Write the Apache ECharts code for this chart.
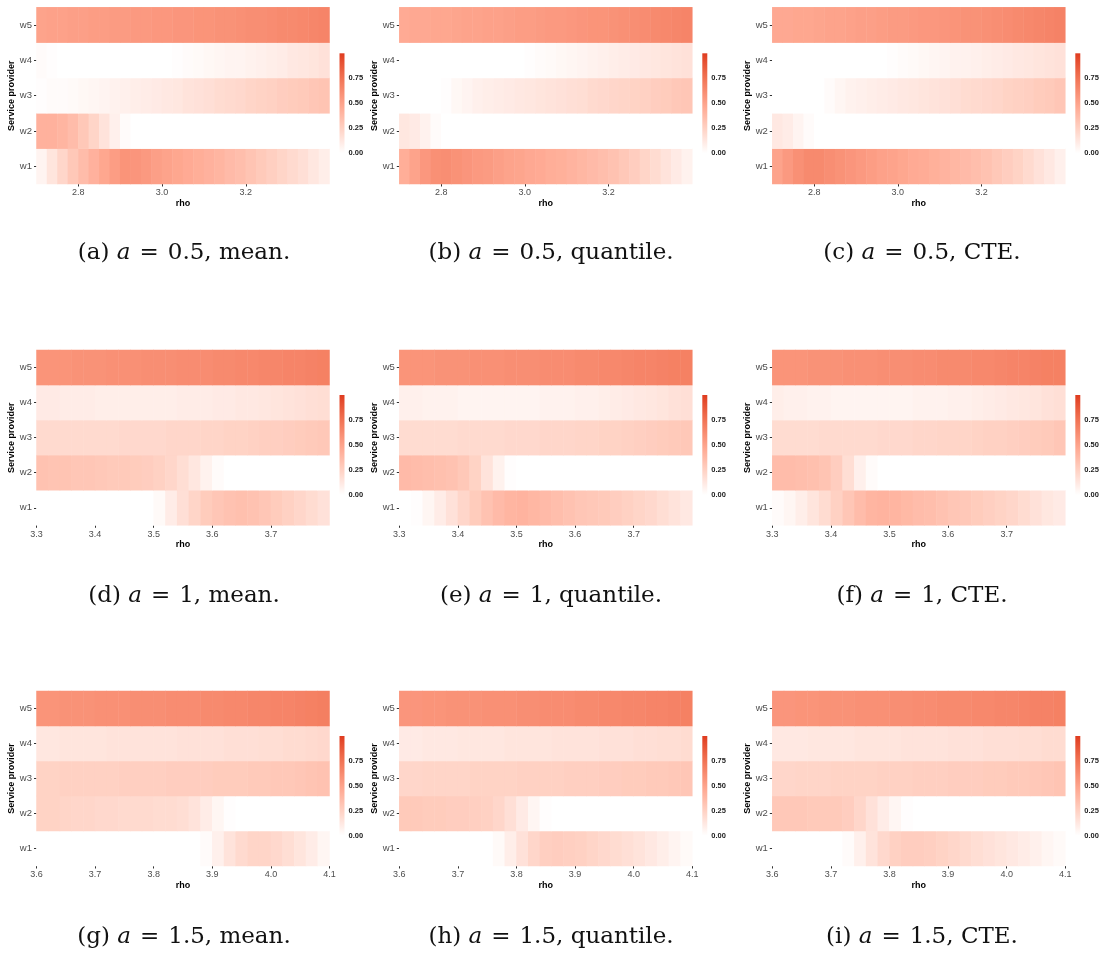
<!DOCTYPE html>
<html><head><meta charset="utf-8">
<script src="https://cdn.jsdelivr.net/npm/echarts@6/dist/echarts.min.js"></script>
<style>html,body{margin:0;padding:0;background:#fff}#c{width:1106px;height:954px}</style>
</head><body><div id="c"></div>
<script>
// ---------- data ----------
const providers = ['w1', 'w2', 'w3', 'w4', 'w5'];
const rhoBins1 = [2.7125,2.7375,2.7625,2.7875,2.8125,2.8375,2.8625,2.8875,2.9125,2.9375,2.9625,2.9875,3.0125,3.0375,3.0625,3.0875,3.1125,3.1375,3.1625,3.1875,3.2125,3.2375,3.2625,3.2875,3.3125,3.3375,3.3625,3.3875];
const rhoBins2 = [3.31,3.33,3.35,3.37,3.39,3.41,3.43,3.45,3.47,3.49,3.51,3.53,3.55,3.57,3.59,3.61,3.63,3.65,3.67,3.69,3.71,3.73,3.75,3.77,3.79];
const rhoBins3 = [3.61,3.63,3.65,3.67,3.69,3.71,3.73,3.75,3.77,3.79,3.81,3.83,3.85,3.87,3.89,3.91,3.93,3.95,3.97,3.99,4.01,4.03,4.05,4.07,4.09];
const rhoRange1 = [2.7, 3.4], rhoRange2 = [3.3, 3.8], rhoRange3 = [3.6, 4.1];
const rhoTicks1 = [2.8, 3.0, 3.2];
const rhoTicks2 = [3.3, 3.4, 3.5, 3.6, 3.7];
const rhoTicks3 = [3.6, 3.7, 3.8, 3.9, 4.0, 4.1];
const legendTicks = [0, 0.25, 0.5, 0.75];
const legendMax = 1.0;
const captionLabels = ['(a)','(b)','(c)','(d)','(e)','(f)','(g)','(h)','(i)'];
const aValues = ['0.5', '1', '1.5'];
const riskKinds = ['mean', 'quantile', 'CTE'];

// rows: w1, w2, w3, w4, w5
const panelA = [
  [0.06,0.14,0.22,0.30,0.36,0.42,0.48,0.53,0.58,0.57,0.55,0.52,0.50,0.48,0.46,0.44,0.42,0.40,0.37,0.35,0.32,0.29,0.26,0.23,0.20,0.17,0.13,0.09],
  [0.42,0.42,0.40,0.36,0.30,0.23,0.15,0.08,0.02,0,0,0,0,0,0,0,0,0,0,0,0,0,0,0,0,0,0,0],
  [0.01,0.02,0.02,0.03,0.04,0.05,0.06,0.07,0.08,0.09,0.10,0.11,0.12,0.13,0.15,0.16,0.17,0.19,0.20,0.21,0.23,0.24,0.25,0.27,0.28,0.29,0.31,0.32],
  [0.02,0.01,0,0,0,0,0,0,0,0,0,0,0,0.01,0.02,0.03,0.04,0.05,0.06,0.06,0.07,0.08,0.09,0.10,0.12,0.13,0.14,0.16],
  [0.50,0.51,0.51,0.52,0.52,0.53,0.53,0.54,0.54,0.55,0.55,0.56,0.56,0.57,0.57,0.58,0.58,0.59,0.59,0.60,0.61,0.61,0.62,0.63,0.63,0.64,0.65,0.66]
];
const panelB = [
  [0.44,0.50,0.56,0.60,0.61,0.59,0.57,0.55,0.54,0.52,0.50,0.49,0.47,0.46,0.44,0.43,0.41,0.39,0.37,0.35,0.33,0.30,0.27,0.23,0.19,0.15,0.11,0.07],
  [0.13,0.11,0.07,0.02,0,0,0,0,0,0,0,0,0,0,0,0,0,0,0,0,0,0,0,0,0,0,0,0],
  [0,0,0,0,0.01,0.04,0.06,0.08,0.09,0.10,0.11,0.12,0.13,0.14,0.15,0.16,0.17,0.18,0.20,0.21,0.22,0.23,0.24,0.25,0.27,0.28,0.30,0.31],
  [0,0,0,0,0,0,0,0,0,0,0,0,0.01,0.02,0.03,0.04,0.05,0.06,0.07,0.08,0.09,0.10,0.11,0.12,0.13,0.14,0.15,0.16],
  [0.46,0.47,0.47,0.48,0.48,0.49,0.50,0.50,0.51,0.51,0.52,0.53,0.53,0.54,0.55,0.55,0.56,0.57,0.58,0.58,0.59,0.60,0.61,0.62,0.63,0.64,0.65,0.66]
];
const panelC = [
  [0.50,0.55,0.60,0.63,0.63,0.61,0.59,0.57,0.55,0.53,0.51,0.50,0.48,0.46,0.45,0.43,0.41,0.39,0.37,0.35,0.33,0.30,0.27,0.24,0.20,0.16,0.12,0.08],
  [0.12,0.10,0.06,0.02,0,0,0,0,0,0,0,0,0,0,0,0,0,0,0,0,0,0,0,0,0,0,0,0],
  [0,0,0,0,0,0.02,0.05,0.07,0.08,0.09,0.10,0.11,0.12,0.13,0.14,0.15,0.16,0.17,0.19,0.20,0.21,0.22,0.24,0.25,0.26,0.28,0.29,0.31],
  [0,0,0,0,0,0,0,0,0,0,0,0.01,0.02,0.03,0.04,0.05,0.06,0.07,0.07,0.08,0.09,0.10,0.11,0.12,0.13,0.14,0.15,0.16],
  [0.47,0.47,0.48,0.48,0.49,0.50,0.50,0.51,0.52,0.52,0.53,0.54,0.54,0.55,0.56,0.56,0.57,0.58,0.59,0.59,0.60,0.61,0.62,0.63,0.64,0.65,0.66,0.67]
];
const panelD = [
  [0,0,0,0,0,0,0,0,0,0,0.03,0.10,0.17,0.23,0.28,0.31,0.33,0.34,0.33,0.31,0.28,0.25,0.22,0.19,0.16],
  [0.33,0.32,0.32,0.31,0.31,0.30,0.29,0.29,0.28,0.27,0.25,0.22,0.18,0.13,0.07,0.02,0,0,0,0,0,0,0,0,0],
  [0.20,0.20,0.20,0.20,0.20,0.20,0.20,0.21,0.21,0.21,0.21,0.22,0.22,0.22,0.23,0.23,0.24,0.24,0.25,0.26,0.26,0.27,0.28,0.29,0.30],
  [0.11,0.11,0.10,0.10,0.10,0.09,0.09,0.09,0.09,0.09,0.09,0.09,0.10,0.10,0.10,0.11,0.11,0.12,0.12,0.13,0.14,0.15,0.16,0.17,0.18],
  [0.58,0.58,0.58,0.59,0.59,0.59,0.60,0.60,0.60,0.61,0.61,0.61,0.62,0.62,0.62,0.63,0.63,0.64,0.64,0.65,0.65,0.66,0.66,0.67,0.68]
];
const panelE = [
  [0,0.01,0.05,0.10,0.16,0.22,0.28,0.33,0.37,0.40,0.41,0.39,0.37,0.35,0.33,0.31,0.30,0.29,0.27,0.25,0.23,0.21,0.18,0.15,0.12],
  [0.37,0.36,0.35,0.34,0.33,0.30,0.24,0.15,0.07,0.01,0,0,0,0,0,0,0,0,0,0,0,0,0,0,0],
  [0.19,0.19,0.19,0.19,0.19,0.20,0.20,0.20,0.20,0.21,0.21,0.21,0.22,0.22,0.22,0.23,0.23,0.24,0.24,0.25,0.26,0.27,0.28,0.29,0.30],
  [0.08,0.08,0.07,0.07,0.07,0.06,0.06,0.06,0.06,0.06,0.06,0.06,0.07,0.07,0.07,0.08,0.08,0.09,0.10,0.11,0.12,0.13,0.14,0.16,0.17],
  [0.58,0.58,0.58,0.59,0.59,0.59,0.60,0.60,0.60,0.61,0.61,0.61,0.62,0.62,0.62,0.63,0.63,0.64,0.64,0.65,0.66,0.66,0.67,0.68,0.68]
];
const panelF = [
  [0.02,0.05,0.09,0.14,0.19,0.25,0.31,0.36,0.40,0.41,0.40,0.38,0.36,0.35,0.33,0.31,0.30,0.28,0.26,0.24,0.22,0.19,0.16,0.13,0.11],
  [0.36,0.36,0.35,0.34,0.32,0.27,0.18,0.08,0.02,0,0,0,0,0,0,0,0,0,0,0,0,0,0,0,0],
  [0.19,0.19,0.19,0.19,0.20,0.20,0.20,0.20,0.20,0.21,0.21,0.21,0.22,0.22,0.23,0.23,0.23,0.24,0.25,0.25,0.26,0.27,0.28,0.29,0.31],
  [0.09,0.08,0.08,0.07,0.07,0.06,0.06,0.06,0.06,0.06,0.06,0.06,0.07,0.07,0.07,0.08,0.08,0.09,0.10,0.11,0.12,0.13,0.14,0.16,0.17],
  [0.58,0.58,0.58,0.59,0.59,0.59,0.60,0.60,0.60,0.61,0.61,0.61,0.62,0.62,0.63,0.63,0.63,0.64,0.64,0.65,0.66,0.66,0.67,0.68,0.68]
];
const panelG = [
  [0,0,0,0,0,0,0,0,0,0,0,0,0,0,0.02,0.08,0.15,0.20,0.23,0.23,0.21,0.18,0.14,0.10,0.05],
  [0.24,0.24,0.23,0.22,0.22,0.21,0.21,0.20,0.20,0.20,0.19,0.19,0.18,0.15,0.10,0.05,0.01,0,0,0,0,0,0,0,0],
  [0.24,0.24,0.25,0.25,0.25,0.25,0.25,0.26,0.26,0.26,0.26,0.27,0.27,0.27,0.27,0.28,0.28,0.28,0.29,0.29,0.30,0.30,0.31,0.32,0.33],
  [0.13,0.13,0.14,0.14,0.14,0.14,0.15,0.15,0.15,0.15,0.15,0.15,0.16,0.16,0.16,0.16,0.17,0.17,0.17,0.18,0.18,0.19,0.19,0.20,0.21],
  [0.58,0.58,0.59,0.59,0.59,0.60,0.60,0.60,0.61,0.61,0.61,0.62,0.62,0.62,0.63,0.63,0.64,0.64,0.65,0.65,0.66,0.66,0.67,0.68,0.69]
];
const panelH = [
  [0,0,0,0,0,0,0,0,0.03,0.09,0.16,0.22,0.26,0.27,0.26,0.25,0.23,0.21,0.19,0.17,0.15,0.12,0.09,0.06,0.03],
  [0.29,0.29,0.28,0.28,0.27,0.27,0.26,0.25,0.22,0.17,0.11,0.05,0.01,0,0,0,0,0,0,0,0,0,0,0,0],
  [0.22,0.22,0.23,0.23,0.23,0.23,0.24,0.24,0.24,0.24,0.25,0.25,0.25,0.25,0.26,0.26,0.26,0.27,0.27,0.28,0.28,0.29,0.29,0.30,0.31],
  [0.11,0.11,0.12,0.12,0.12,0.13,0.13,0.13,0.13,0.14,0.14,0.14,0.14,0.15,0.15,0.15,0.15,0.16,0.16,0.16,0.17,0.17,0.18,0.18,0.19],
  [0.57,0.57,0.58,0.58,0.59,0.59,0.59,0.60,0.60,0.60,0.61,0.61,0.62,0.62,0.62,0.63,0.63,0.64,0.64,0.65,0.65,0.66,0.66,0.67,0.68]
];
const panelI = [
  [0,0,0,0,0,0,0.02,0.08,0.15,0.21,0.25,0.27,0.27,0.26,0.24,0.22,0.20,0.18,0.16,0.14,0.12,0.10,0.08,0.05,0.03],
  [0.30,0.30,0.30,0.29,0.29,0.29,0.27,0.22,0.16,0.10,0.05,0.01,0,0,0,0,0,0,0,0,0,0,0,0,0],
  [0.22,0.22,0.23,0.23,0.23,0.24,0.24,0.24,0.24,0.25,0.25,0.25,0.26,0.26,0.26,0.27,0.27,0.27,0.28,0.28,0.29,0.29,0.30,0.31,0.32],
  [0.12,0.12,0.12,0.13,0.13,0.13,0.13,0.14,0.14,0.14,0.14,0.15,0.15,0.15,0.15,0.16,0.16,0.16,0.17,0.17,0.17,0.18,0.18,0.19,0.19],
  [0.57,0.57,0.58,0.58,0.59,0.59,0.59,0.60,0.60,0.60,0.61,0.61,0.62,0.62,0.63,0.63,0.63,0.64,0.64,0.65,0.65,0.66,0.67,0.67,0.68]
];

// ---------- colour scale (Lab interpolation white -> high, like ggplot) ----------
const LOW = '#FFFFFF', HIGH = '#DF3B1F';
function toLin(c){c/=255;return c<=0.04045?c/12.92:Math.pow((c+0.055)/1.055,2.4);}
function toS(c){c=Math.max(0,Math.min(1,c));const v=c<=0.0031308?12.92*c:1.055*Math.pow(c,1/2.4)-0.055;return Math.round(v*255);}
function hexToLab(h){
  const r=toLin(parseInt(h.slice(1,3),16)),g=toLin(parseInt(h.slice(3,5),16)),b=toLin(parseInt(h.slice(5,7),16));
  const X=(0.4124*r+0.3576*g+0.1805*b)/0.95047,Y=0.2126*r+0.7152*g+0.0722*b,Z=(0.0193*r+0.1192*g+0.9505*b)/1.08883;
  const f=t=>t>0.008856?Math.cbrt(t):7.787*t+16/116;
  const fx=f(X),fy=f(Y),fz=f(Z);
  return [116*fy-16,500*(fx-fy),200*(fy-fz)];
}
function labToRgb(L,a,b){
  const fy=(L+16)/116,fx=fy+a/500,fz=fy-b/200;
  const fi=t=>t*t*t>0.008856?t*t*t:(t-16/116)/7.787;
  const X=fi(fx)*0.95047,Y=fi(fy),Z=fi(fz)*1.08883;
  const r=3.2406*X-1.5372*Y-0.4986*Z,g=-0.9689*X+1.8758*Y+0.0415*Z,bb=0.0557*X-0.2040*Y+1.0570*Z;
  return 'rgb('+toS(r)+','+toS(g)+','+toS(bb)+')';
}
const labLo=hexToLab(LOW), labHi=hexToLab(HIGH);
const NSTOP=21;
const scaleColors=[];
for(let i=0;i<NSTOP;i++){const t=i/(NSTOP-1);scaleColors.push(labToRgb(labLo[0]+(labHi[0]-labLo[0])*t,labLo[1]+(labHi[1]-labLo[1])*t,labLo[2]+(labHi[2]-labLo[2])*t));}

// ---------- layout ----------
const colLeft=[36.5,399.3,772.3], plotW=293;
const rowTop=[7.3,350,691], plotH=[176.7,175.3,175];
const cbarTop=[53.3,395,736], cbarH=[100,100,99.7];
const captionX=[184,551,922], captionY=[253,596,937];
const AXIS_FONT='"Liberation Sans", Arial, sans-serif';
const CAP_FONT='"DejaVu Serif", serif';
const CAP_SIZE=23;

const panels=[panelA,panelB,panelC,panelD,panelE,panelF,panelG,panelH,panelI];
const rowBins=[rhoBins1,rhoBins2,rhoBins3];
const rowRange=[rhoRange1,rhoRange2,rhoRange3];
const rowTicks=[rhoTicks1,rhoTicks2,rhoTicks3];

const grid=[],xAxis=[],yAxis=[],series=[],graphic=[];
const heatIdx=[];
panels.forEach((pd,p)=>{
  const r=Math.floor(p/3),c=p%3;
  grid.push({left:colLeft[c],top:rowTop[r],width:plotW,height:plotH[r]});
});
panels.forEach((pd,p)=>{
  const r=Math.floor(p/3),c=p%3;
  grid.push({left:colLeft[c]+plotW+10,top:cbarTop[r],width:5,height:cbarH[r]});
});
panels.forEach((pd,p)=>{
  const r=Math.floor(p/3),c=p%3;
  const bins=rowBins[r];
  xAxis.push({type:'category',gridIndex:p,data:bins.map(String),show:false,boundaryGap:true});
  xAxis.push({type:'value',gridIndex:p,min:rowRange[r][0],max:rowRange[r][1],position:'bottom',
    axisLine:{show:false},splitLine:{show:false},
    axisTick:{show:true,length:2.5,lineStyle:{color:'#333',width:1},customValues:rowTicks[r]},
    axisLabel:{customValues:rowTicks[r],formatter:v=>Number(v).toFixed(1),color:'#4d4d4d',fontSize:9,margin:4.5,fontFamily:AXIS_FONT},
    name:'rho',nameLocation:'middle',nameGap:15,
    nameTextStyle:{fontWeight:'bold',fontSize:9,color:'#000',fontFamily:AXIS_FONT}});
  xAxis.push({type:'category',gridIndex:9+p,data:[''],show:false});
  yAxis.push({type:'category',gridIndex:p,data:providers,
    axisLine:{show:false},splitLine:{show:false},
    axisTick:{show:true,length:2.5,alignWithLabel:true,lineStyle:{color:'#333',width:1}},
    axisLabel:{color:'#4d4d4d',fontSize:9.5,margin:4.5,fontFamily:AXIS_FONT},
    name:'Service provider',nameLocation:'middle',nameGap:19,nameRotate:90,
    nameTextStyle:{fontWeight:'bold',fontSize:9,color:'#000',fontFamily:AXIS_FONT}});
  yAxis.push({type:'value',gridIndex:9+p,min:0,max:legendMax,position:'right',
    axisLine:{show:false},axisTick:{show:false},splitLine:{show:false},
    axisLabel:{customValues:legendTicks,formatter:v=>Number(v).toFixed(2),fontSize:7.5,fontWeight:'bold',color:'#1a1a1a',margin:4,fontFamily:AXIS_FONT}});
  const data=[];
  pd.forEach((row,ri)=>{row.forEach((v,i)=>{data.push([i,ri,v]);});});
  heatIdx.push(series.length);
  series.push({type:'heatmap',xAxisIndex:3*p,yAxisIndex:2*p,data:data,
    itemStyle:{borderWidth:0},emphasis:{disabled:true},progressive:0});
  series.push({type:'bar',xAxisIndex:3*p+2,yAxisIndex:2*p+1,data:[legendMax],barWidth:'100%',silent:true,
    itemStyle:{color:{type:'linear',x:0,y:1,x2:0,y2:0,colorStops:scaleColors.map((col,i)=>({offset:i/(NSTOP-1),color:col}))}}});
  graphic.push({type:'text',x:captionX[c],y:captionY[r],silent:true,
    style:{text:captionLabels[p]+' {i|a}{e|=}'+aValues[r]+', '+riskKinds[c]+'.',
      fontFamily:CAP_FONT,fontSize:CAP_SIZE,fill:'#111',align:'center',verticalAlign:'middle',
      rich:{i:{fontFamily:CAP_FONT,fontStyle:'italic',fontSize:CAP_SIZE,fill:'#111'},
            e:{fontFamily:CAP_FONT,fontSize:CAP_SIZE,fill:'#111',padding:[0,9,0,9]}}}});
});

const chart=echarts.init(document.getElementById('c'),null,{renderer:'canvas'});
chart.setOption({
  animation:false,
  backgroundColor:'#fff',
  grid:grid,xAxis:xAxis,yAxis:yAxis,
  visualMap:{type:'continuous',show:false,min:0,max:legendMax,seriesIndex:heatIdx,dimension:2,inRange:{color:scaleColors}},
  series:series,
  graphic:graphic
});
</script></body></html>
